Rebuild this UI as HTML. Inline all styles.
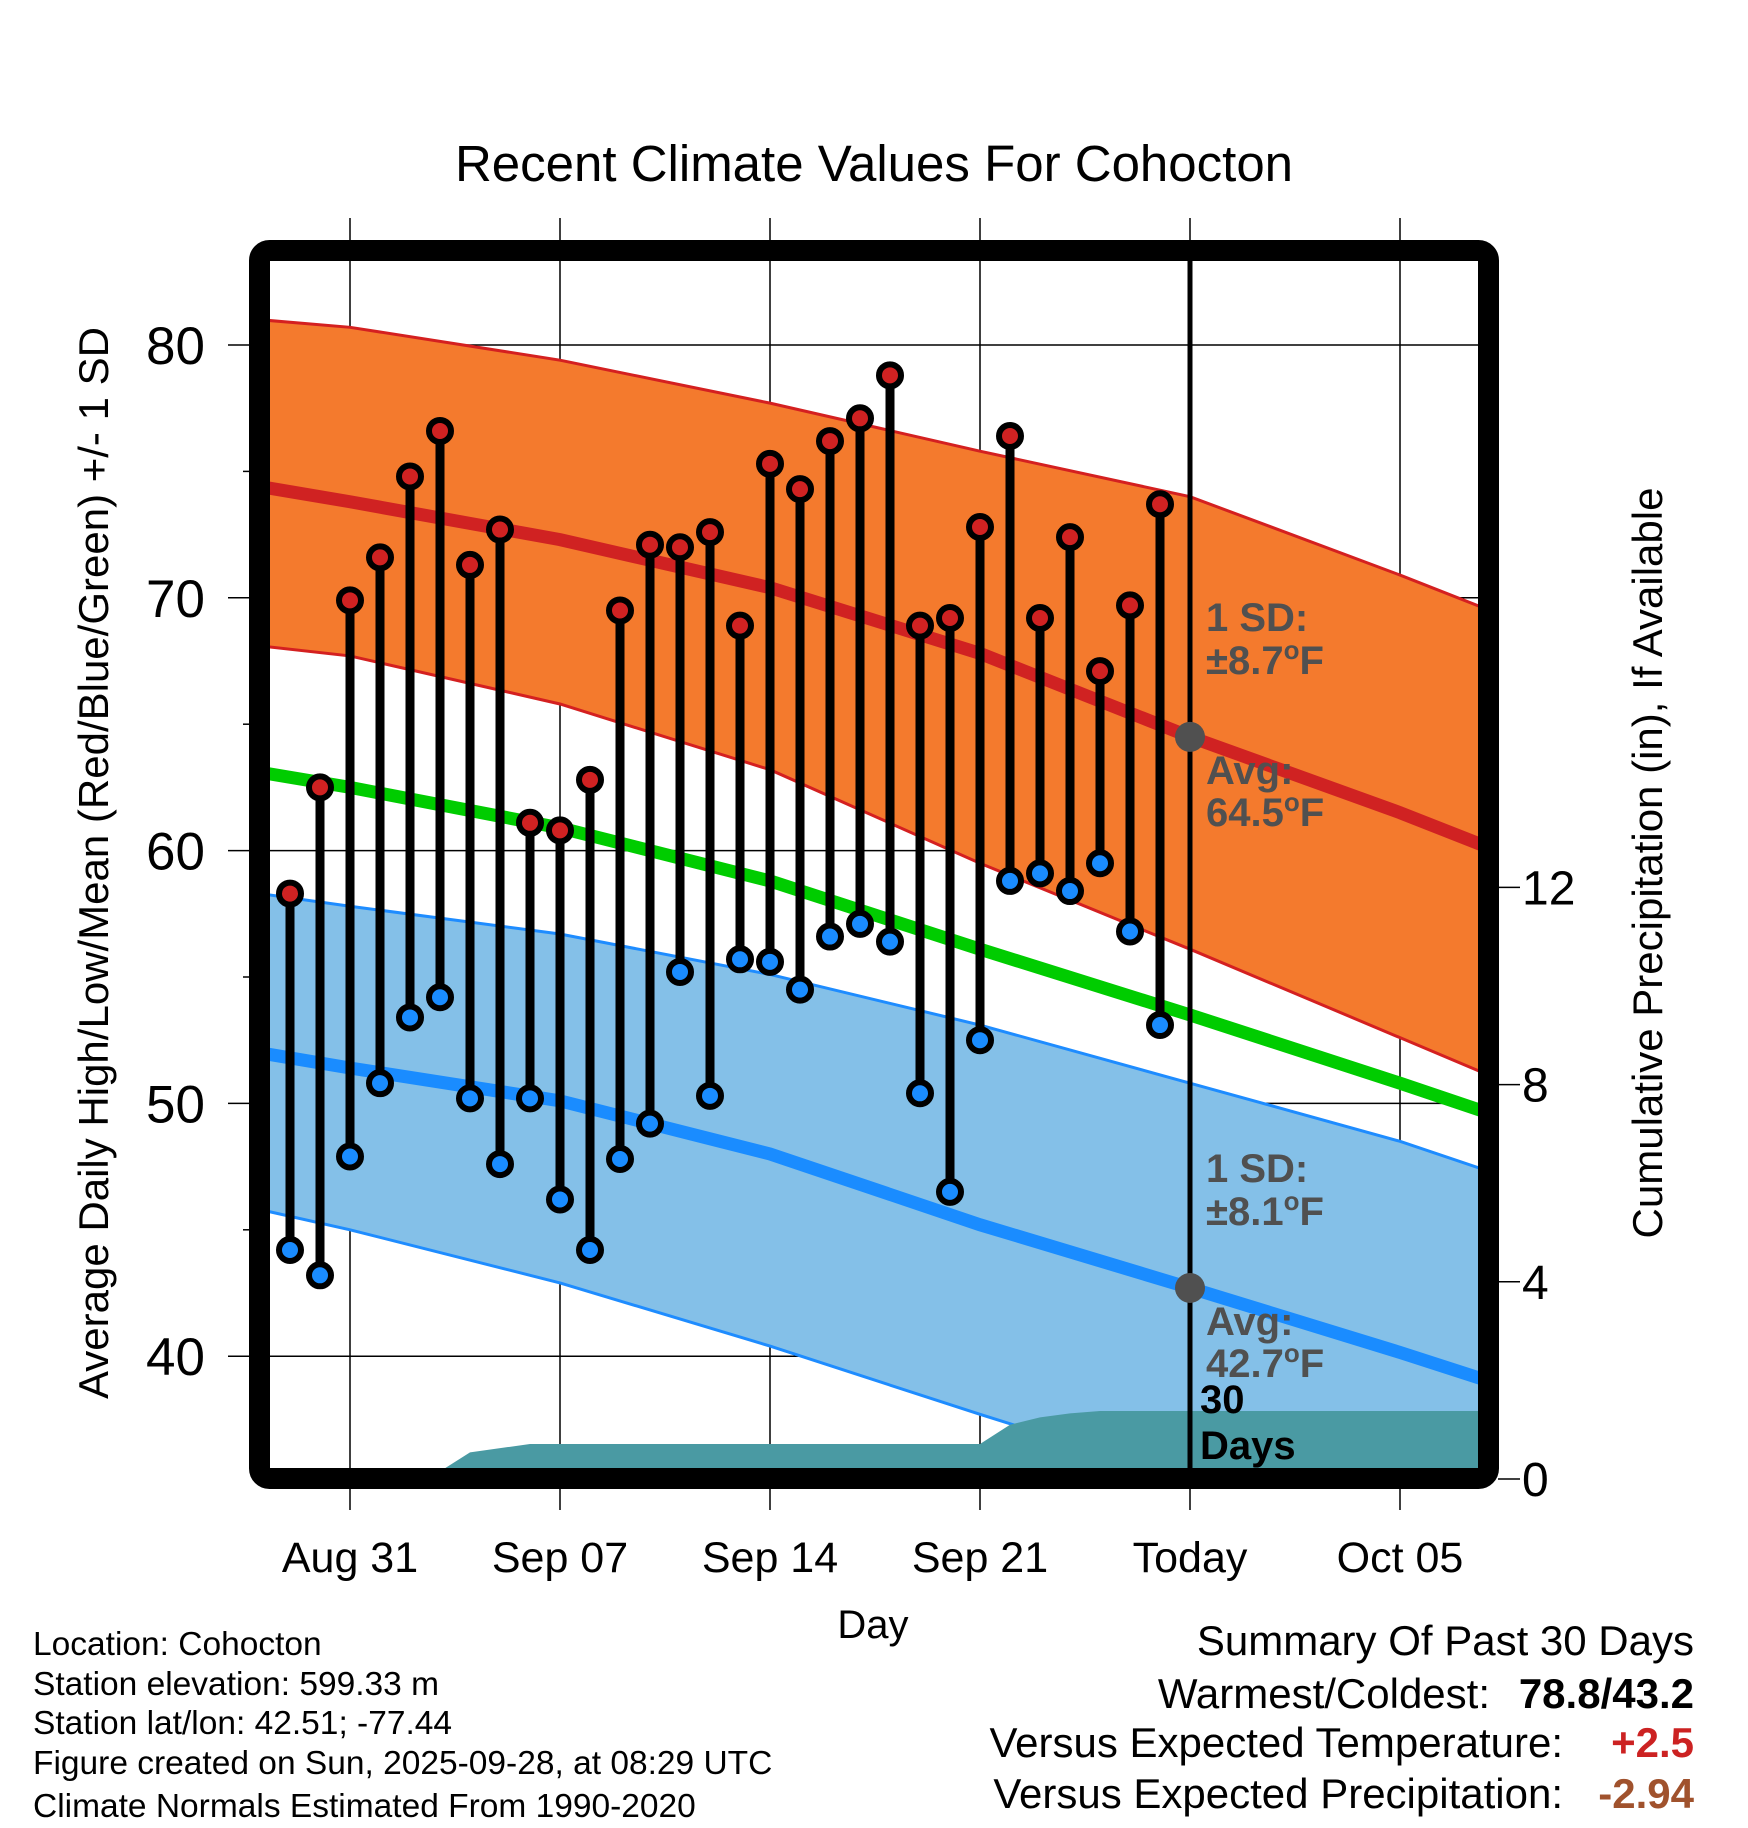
<!DOCTYPE html>
<html><head><meta charset="utf-8"><style>
html,body{margin:0;padding:0;background:#fff;}
svg{display:block;font-family:"Liberation Sans",Arial,sans-serif;}
</style></head><body>
<svg id="chart" width="1748" height="1828" viewBox="0 0 1748 1828" xmlns="http://www.w3.org/2000/svg">
<defs><clipPath id="plotclip"><rect x="270" y="260" width="1209" height="1209"/></clipPath></defs>
<text x="874" y="181" font-size="51" text-anchor="middle">Recent Climate Values For Cohocton</text>
<g id="grid"></g>
<g id="plot" clip-path="url(#plotclip)"></g>
<g id="marks"></g>
<rect x="259.5" y="250.5" width="1229" height="1228" rx="10" fill="none" stroke="#000" stroke-width="21"/>
<g id="axes"></g>
<text transform="translate(108,863) rotate(-90)" font-size="42" text-anchor="middle">Average Daily High/Low/Mean (Red/Blue/Green) +/- 1 SD</text>
<text transform="translate(1662,863) rotate(-90)" font-size="42" text-anchor="middle">Cumulative Precipitation (in), If Available</text>
<text x="873" y="1638" font-size="40" text-anchor="middle">Day</text>
<g font-size="33.5">
<text x="33" y="1655">Location: Cohocton</text>
<text x="33" y="1695">Station elevation: 599.33 m</text>
<text x="33" y="1734">Station lat/lon: 42.51; -77.44</text>
<text x="33" y="1774">Figure created on Sun, 2025-09-28, at 08:29 UTC</text>
<text x="33" y="1817">Climate Normals Estimated From 1990-2020</text>
</g>
<g font-size="42">
<text x="1694" y="1655" text-anchor="end">Summary Of Past 30 Days</text>
<text x="1490" y="1708" text-anchor="end">Warmest/Coldest:</text>
<text x="1694" y="1708" text-anchor="end" font-weight="bold">78.8/43.2</text>
<text x="1563" y="1757" text-anchor="end">Versus Expected Temperature:</text>
<text x="1694" y="1757" text-anchor="end" font-weight="bold" fill="#cc2222">+2.5</text>
<text x="1563" y="1808" text-anchor="end">Versus Expected Precipitation:</text>
<text x="1694" y="1808" text-anchor="end" font-weight="bold" fill="#a0522d">-2.94</text>
</g>
</svg>
<script>
// data
const dayOffsets=[-2,-1,0,1,2,3,4,5,6,7,8,9,10,11,12,13,14,15,16,17,18,19,20,21,22,23,24,25,26,27];
const highs=[58.3,62.5,69.9,71.6,74.8,76.6,71.3,72.7,61.1,60.8,62.8,69.5,72.1,72.0,72.6,68.9,75.3,74.3,76.2,77.1,78.8,68.9,69.2,72.8,76.4,69.2,72.4,67.1,69.7,73.7];
const lows=[44.2,43.2,47.9,50.8,53.4,54.2,50.2,47.6,50.2,46.2,44.2,47.8,49.2,55.2,50.3,55.7,55.6,54.5,56.6,57.1,56.4,50.4,46.5,52.5,58.8,59.1,58.4,59.5,56.8,53.1];
const precipDays=[-3,2.6,4,6,21,22,23,24,25,38];
const precipCum=[0,0,0.54,0.71,0.71,1.1,1.25,1.33,1.38,1.38];
const normDays=[-3,0,7,14,21,28,35,38];
const hiUpper=[81.0,80.7,79.4,77.7,75.8,74.0,70.9,69.5];
const hiAvg=[74.4,73.8,72.3,70.4,67.8,64.5,61.5,60.1];
const hiLower=[68.1,67.7,65.8,63.2,59.5,56.1,52.6,51.1];
const meanAvg=[63.1,62.5,60.9,58.8,56.1,53.5,50.8,49.6];
const loUpper=[58.3,57.8,56.7,55.1,53.1,50.8,48.5,47.3];
const loAvg=[52.0,51.4,50.1,48.0,45.2,42.7,40.15,39.0];
const loLower=[45.8,45.0,42.9,40.4,37.7,35.1,33.0,32.2];
const xTickDays=[0,7,14,21,28,35];
const xTickLabels=["Aug 31","Sep 07","Sep 14","Sep 21","Today","Oct 05"];
const yTicks=[40,50,60,70,80];
const yMinor=[45,55,65,75];
const pTicks=[0,4,8,12];
const todayDay=28;

const NS="http://www.w3.org/2000/svg";
const X=d=>350+d*30;
const Y=v=>345+(80-v)*25.28;
const P=p=>1479-p*49.3;
function mk(tag,attrs,parent){const e=document.createElementNS(NS,tag);for(const k in attrs)e.setAttribute(k,attrs[k]);parent.appendChild(e);return e;}
const grid=document.getElementById('grid'),plot=document.getElementById('plot'),marks=document.getElementById('marks'),axes=document.getElementById('axes');

function band(up,lo,fill,stroke,name){
  let d='M'+normDays.map((t,i)=>X(t)+','+Y(up[i])).join(' L');
  d+=' L'+normDays.slice().reverse().map((t,j)=>{const i=normDays.length-1-j;return X(t)+','+Y(lo[i]);}).join(' L')+' Z';
  const b=mk('path',{d:d,fill:fill},plot);
  
  
  [up,lo].forEach(arr=>{const l=mk('path',{d:'M'+normDays.map((t,i)=>X(t)+','+Y(arr[i])).join(' L'),fill:'none',stroke:stroke,'stroke-width':3},plot);
  
  });
}
function line(arr,color,w,name){
  const l=mk('path',{d:'M'+normDays.map((t,i)=>X(t)+','+Y(arr[i])).join(' L'),fill:'none',stroke:color,'stroke-width':w},plot);
  
  
}
band(hiUpper,hiLower,'#f47a2d','#d42020','high-sd-band');
band(loUpper,loLower,'#84c0e8','#1e8cff','low-sd-band');
line(hiAvg,'#d02222',13,'avg-high-line');
line(meanAvg,'#00cc00',13,'avg-mean-line');
line(loAvg,'#1a8cff',13,'avg-low-line');
// precip
let pd='M'+X(precipDays[0])+','+P(0)+' L'+precipDays.map((t,i)=>X(t)+','+P(precipCum[i])).join(' L')+' L'+X(precipDays[precipDays.length-1])+','+P(0)+' Z';
const pa=mk('path',{d:pd,fill:'#4a9aa3'},plot);



// grid
xTickDays.forEach((t,i)=>{
  const g=mk('line',{x1:X(t),x2:X(t),y1:218,y2:1510,stroke:'#000','stroke-width':1.5},grid);
  
  
  const tx=mk('text',{x:X(t),y:1572,'font-size':43,'text-anchor':'middle'},axes);
  tx.textContent=xTickLabels[i];
  
  
});
yTicks.forEach(v=>{
  const g=mk('line',{x1:228,x2:1479,y1:Y(v),y2:Y(v),stroke:'#000','stroke-width':1.5},grid);
  
  
  const tx=mk('text',{x:205,y:Y(v)+19,'font-size':53,'text-anchor':'end'},axes);
  tx.textContent=v;
  
  
});
yMinor.forEach(v=>{
  const g=mk('line',{x1:243,x2:252,y1:Y(v),y2:Y(v),stroke:'#000','stroke-width':1.5},grid);
  
  
});
pTicks.forEach(p=>{
  const g=mk('line',{x1:1498,x2:1520,y1:P(p),y2:P(p),stroke:'#000','stroke-width':1.5},axes);
  
  
  const tx=mk('text',{x:1522,y:P(p)+17,'font-size':48},axes);
  tx.textContent=p;
  
  
});
// today line
const tl=mk('line',{x1:X(todayDay),x2:X(todayDay),y1:260,y2:1470,stroke:'#000','stroke-width':5},marks);


// stems
dayOffsets.forEach((d,i)=>{
  const s=mk('line',{x1:X(d),x2:X(d),y1:Y(highs[i]),y2:Y(lows[i]),stroke:'#000','stroke-width':9},marks);
  
  
});
dayOffsets.forEach((d,i)=>{
  const h=mk('circle',{cx:X(d),cy:Y(highs[i]),r:11,fill:'#d02222',stroke:'#000','stroke-width':6},marks);
  
  
  const l=mk('circle',{cx:X(d),cy:Y(lows[i]),r:11,fill:'#1a8cff',stroke:'#000','stroke-width':6},marks);
  
  
});
// today avg dots
[[hiAvg,'today-avg-high-dot'],[loAvg,'today-avg-low-dot']].forEach(([arr,n])=>{
  const v=arr[normDays.indexOf(todayDay)];
  const c=mk('circle',{cx:X(todayDay),cy:Y(v),r:15,fill:'#505050'},marks);
  
  
});
// annotations
function lab(txt,x,y,col,name,sup){
  const t=mk('text',{x:x,y:y,'font-size':40,'font-weight':'bold',fill:col},marks);
  
  
  if(sup){t.appendChild(document.createTextNode(txt));const s=mk('tspan',{dy:-15,'font-size':26},t);s.textContent='o';const f=mk('tspan',{dy:15},t);f.textContent='F';}
  else t.textContent=txt;
}
lab('1 SD:',1206,631,'#505050','high-sd-label');
lab('±8.7',1206,674,'#505050','high-sd-value',true);
lab('Avg:',1206,784,'#505050','high-avg-label');
lab('64.5',1206,826,'#505050','high-avg-value',true);
lab('1 SD:',1206,1182,'#505050','low-sd-label');
lab('±8.1',1206,1225,'#505050','low-sd-value',true);
lab('Avg:',1206,1335,'#505050','low-avg-label');
lab('42.7',1206,1377,'#505050','low-avg-value',true);
lab('30',1200,1413,'#000','days-label-30');
lab('Days',1200,1459,'#000','days-label');
</script>
</body></html>
